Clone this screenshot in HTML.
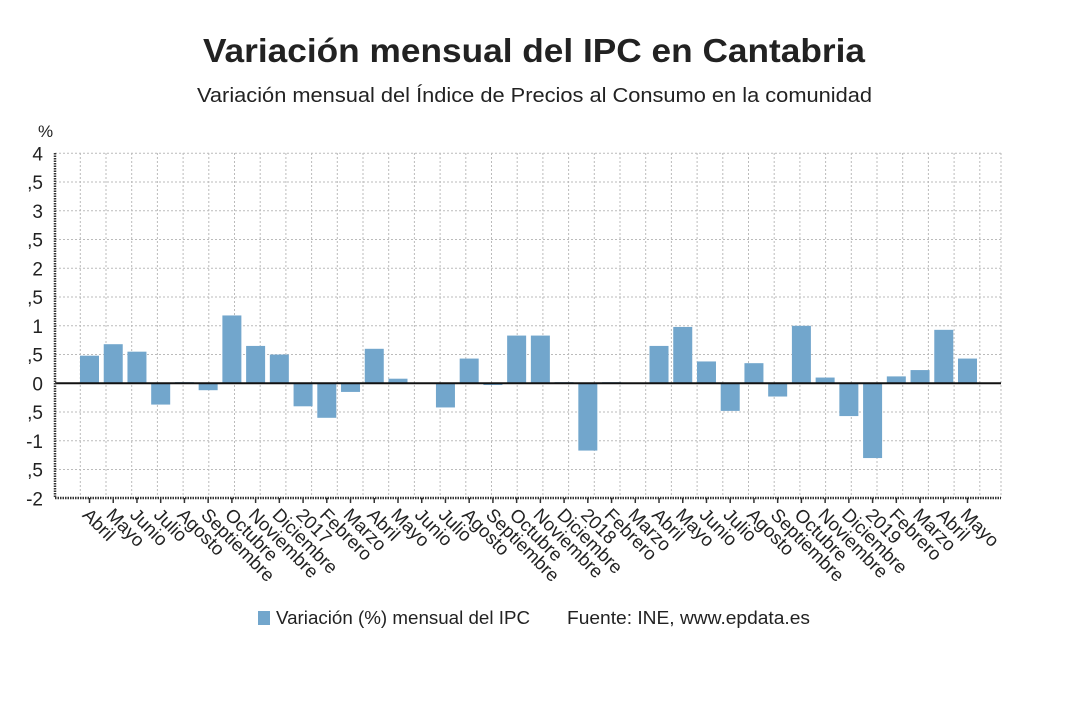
<!DOCTYPE html>
<html><head><meta charset="utf-8"><style>
body{margin:0;background:#fff;width:1068px;height:720px;overflow:hidden}
svg text{font-family:"Liberation Sans",sans-serif;fill:#222}
</style></head><body>
<svg width="1068" height="720" viewBox="0 0 1068 720" xmlns="http://www.w3.org/2000/svg">
<text x="203" y="62" font-size="33" font-weight="bold" fill="#111" textLength="662" lengthAdjust="spacingAndGlyphs">Variación mensual del IPC en Cantabria</text>
<text x="197" y="102" font-size="20" textLength="675" lengthAdjust="spacingAndGlyphs">Variación mensual del Índice de Precios al Consumo en la comunidad</text>
<text x="38" y="137" font-size="17">%</text>
<g id="grid" stroke="#bbb" stroke-width="1" stroke-dasharray="2,2"></g>
<g id="bars" fill="#72a6cc"></g>
<line x1="55" y1="383.3" x2="1001" y2="383.3" stroke="#111" stroke-width="2"/>
<line x1="55" y1="153" x2="55" y2="498" stroke="#333" stroke-width="2.5" stroke-dasharray="1.5,1"/>
<line x1="55" y1="498" x2="1001" y2="498" stroke="#333" stroke-width="2.5" stroke-dasharray="1.5,1"/>
<g id="ylab" font-size="19"></g>
<g id="xlab" font-size="18.5"></g>
<rect x="258" y="611" width="12" height="14" fill="#72a6cc"/>
<text x="276" y="624" font-size="18" textLength="254" lengthAdjust="spacingAndGlyphs">Variación (%) mensual del IPC</text>
<text x="567" y="624" font-size="18" textLength="243" lengthAdjust="spacingAndGlyphs">Fuente: INE, www.epdata.es</text>
</svg>
<script>
const NS="http://www.w3.org/2000/svg";
function el(t,a,p,txt){const e=document.createElementNS(NS,t);for(const k in a)e.setAttribute(k,a[k]);if(txt!==undefined)e.textContent=txt;document.getElementById(p).appendChild(e);return e;}
const y0=383.3,u=57.5;
for(let v=-1.5;v<=4.01;v+=0.5){const y=y0-v*u;el('line',{x1:55,y1:y,x2:1001,y2:y},'grid');}
for(let x=80.3;x<1001;x+=25.7){el('line',{x1:x,y1:153,x2:x,y2:498},'grid');}
el('line',{x1:1001,y1:153,x2:1001,y2:498},'grid');
const yl=['-2',',5','-1',',5','0',',5','1',',5','2',',5','3',',5','4'];
yl.forEach((t,i)=>{const v=-2+i*0.5;el('text',{x:43,y:y0-v*u+7,'text-anchor':'end'},'ylab',t);});
const names=['Abril','Mayo','Junio','Julio','Agosto','Septiembre','Octubre','Noviembre','Diciembre','2017','Febrero','Marzo','Abril','Mayo','Junio','Julio','Agosto','Septiembre','Octubre','Noviembre','Diciembre','2018','Febrero','Marzo','Abril','Mayo','Junio','Julio','Agosto','Septiembre','Octubre','Noviembre','Diciembre','2019','Febrero','Marzo','Abril','Mayo'];
const vals=[0.48,0.68,0.55,-0.37,0.02,-0.12,1.18,0.65,0.5,-0.4,-0.6,-0.15,0.6,0.08,0.0,-0.42,0.43,-0.03,0.83,0.83,0.02,-1.17,0.02,0.0,0.65,0.98,0.38,-0.48,0.35,-0.23,1.0,0.1,-0.57,-1.3,0.12,0.23,0.93,0.43];
names.forEach((n,i)=>{const c=89.5+i*23.73;const v=vals[i];
 if(Math.abs(v)>0.005){const h=Math.abs(v)*u;el('rect',{x:c-9.5,y:v>0?y0-h:y0,width:19,height:h},'bars');}
 el('line',{x1:c,y1:498,x2:c,y2:503,stroke:'#333','stroke-width':1.5},'xlab');
 const tx=c-8,ty=516;
 el('text',{x:tx,y:ty,transform:`rotate(45 ${tx} ${ty})`},'xlab',n);
});
</script>
</body></html>
